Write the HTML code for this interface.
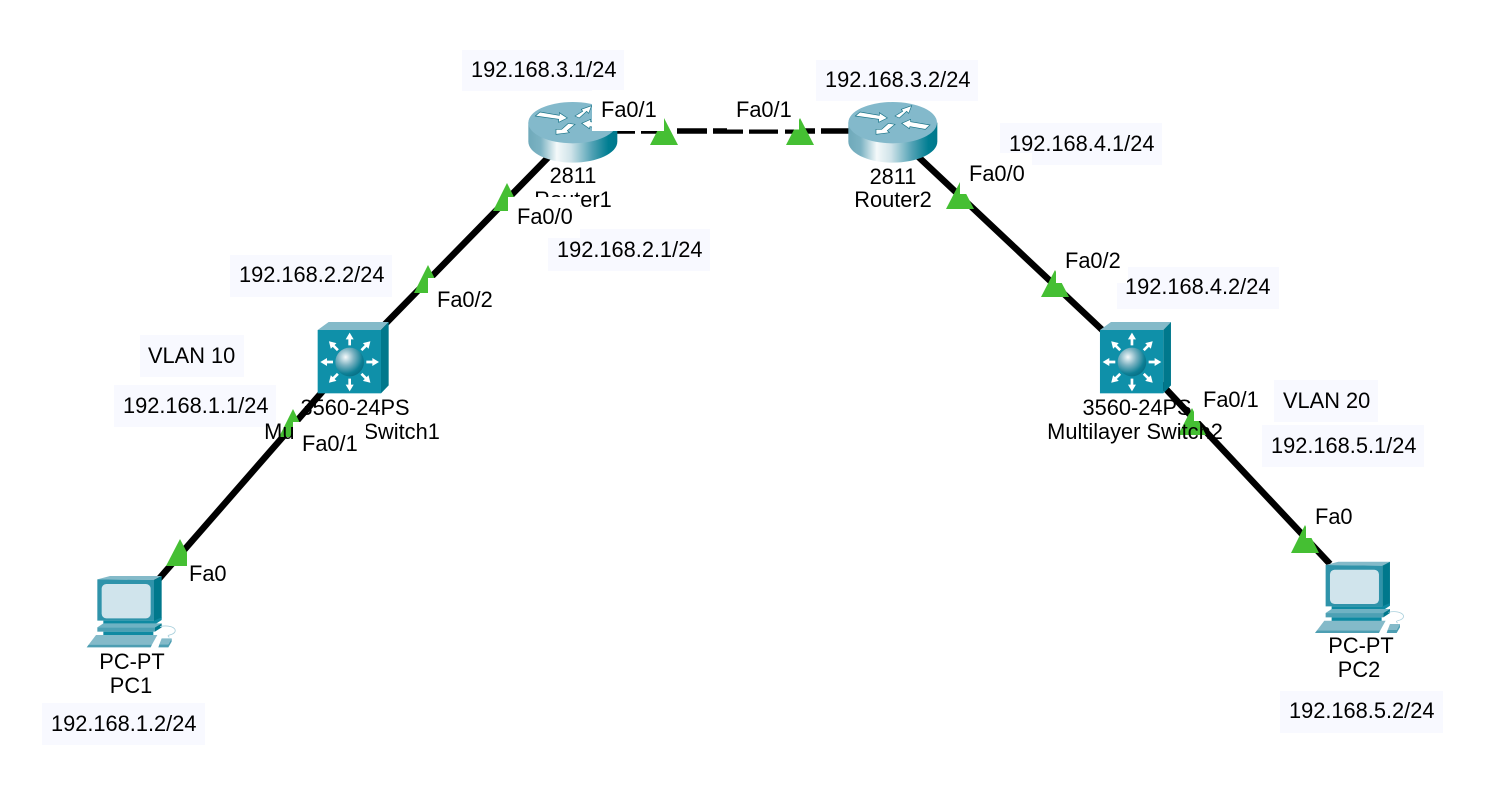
<!DOCTYPE html>
<html>
<head>
<meta charset="utf-8">
<style>
html,body{margin:0;padding:0;background:#fff;width:1490px;height:786px;overflow:hidden}
svg{display:block}
text{font-family:"Liberation Sans",Arial,sans-serif;font-size:21.8px;fill:#000}
.b{fill:#f8f9ff}
.w{fill:#fff}
.t{fill:#45bf33}
</style>
</head>
<body>
<svg width="1490" height="786" viewBox="0 0 1490 786" xmlns="http://www.w3.org/2000/svg">
<defs>
<linearGradient id="rg" x1="0" x2="1" y1="0" y2="0">
<stop offset="0" stop-color="#6fa9ba"/>
<stop offset=".14" stop-color="#7cb3c3"/>
<stop offset=".32" stop-color="#f4f9fa"/>
<stop offset=".48" stop-color="#cfe3e9"/>
<stop offset=".72" stop-color="#4fa0b3"/>
<stop offset=".9" stop-color="#007e92"/>
<stop offset="1" stop-color="#00788c"/>
</linearGradient>
<radialGradient id="sg" cx=".36" cy=".33" r=".72">
<stop offset="0" stop-color="#f6fafb"/>
<stop offset=".4" stop-color="#7db3c2"/>
<stop offset=".8" stop-color="#0d7f95"/>
<stop offset="1" stop-color="#086f85"/>
</radialGradient>
<g id="router">
<path d="M205 98V155C205 190 265 218 338 218S472 190 472 155V98Z" fill="url(#rg)"/>
<ellipse cx="338" cy="98" rx="133" ry="62" fill="#83b9cb"/>
<g fill="#fff" stroke="#1a7488" stroke-width="2">
<polygon points="226,78 240,66 298,76 298,68 322,84 296,97 296,88"/>
<polygon points="345,78 368,64 364,58 395,47 386,70 380,64 358,84"/>
<polygon points="365,100 392,88 392,95 450,105 436,118 390,110 388,116"/>
<polygon points="288,118 305,118 325,100 345,103 322,122 328,128 288,133"/>
</g>
</g>
<g id="arr"><polygon points="-4,-50 4,-50 4,-68 12,-68 0,-88 -12,-68 -4,-68" fill="#fff"/></g>
<g id="switch">
<polygon points="263,90 296,66 476,66 453,90" fill="#84bac9"/>
<polygon points="453,90 476,66 476,256 453,280" fill="#00788c"/>
<rect x="263" y="90" width="190" height="190" fill="#0f90a9"/>
<use href="#arr" transform="translate(359,186)"/>
<use href="#arr" transform="translate(359,186) rotate(45)"/>
<use href="#arr" transform="translate(359,186) rotate(90)"/>
<use href="#arr" transform="translate(359,186) rotate(135)"/>
<use href="#arr" transform="translate(359,186) rotate(180)"/>
<use href="#arr" transform="translate(359,186) rotate(225)"/>
<use href="#arr" transform="translate(359,186) rotate(270)"/>
<use href="#arr" transform="translate(359,186) rotate(315)"/>
<circle cx="359" cy="186" r="43" fill="url(#sg)"/>
</g>
<g id="pc">
<polygon points="172,148 210,138 365,138 342,150" fill="#84bac9"/>
<polygon points="342,150 365,138 365,265 342,280" fill="#00788c"/>
<polygon points="172,148 342,150 342,272 172,272" fill="#2f93aa"/>
<rect x="185" y="162" width="147" height="103" rx="14" fill="#d0e4ec"/>
<polygon points="190,272 342,272 365,262 365,270 342,285 190,285" fill="#0f8aa2"/>
<polygon points="172,292 190,280 365,280 345,292" fill="#6fb2c3"/>
<rect x="172" y="292" width="173" height="13" fill="#4da0b4"/>
<polygon points="345,292 365,280 365,292 345,305" fill="#00788c"/>
<rect x="190" y="305" width="150" height="12" fill="#0f8aa2"/>
<polygon points="168,315 352,315 336,344 146,344" fill="#84bac9"/>
<polygon points="146,344 336,344 332,352 140,352" fill="#4d9eb2"/>
<path d="M360 290C385 284 410 292 405 305S375 312 388 322" fill="none" stroke="#a9d0dc" stroke-width="2.5"/>
<polygon points="365,325 395,325 385,343 358,343" fill="#84bac9"/>
<polygon points="358,343 385,343 395,325 395,335 385,352 355,352" fill="#4d9eb2"/>
</g>
</defs>

<!-- IP label backgrounds -->
<rect class="b" x="462" y="50" width="162" height="41"/>
<rect class="b" x="816" y="60" width="162" height="41"/>
<rect class="b" x="1000" y="123" width="162" height="42"/>
<rect class="b" x="548" y="229" width="162" height="42"/>
<rect class="b" x="230" y="255" width="162" height="42"/>
<rect class="b" x="1117" y="267" width="162" height="42"/>
<rect class="b" x="140" y="335" width="104" height="42"/>
<rect class="b" x="114" y="385" width="162" height="42"/>
<rect class="b" x="1274" y="380" width="104" height="42"/>
<rect class="b" x="1262" y="425" width="162" height="42"/>
<rect class="b" x="1280" y="691" width="163" height="42"/>
<rect class="b" x="42" y="703" width="163" height="42"/>

<!-- links -->
<g stroke="#000" stroke-width="6.5" fill="none">
<line x1="573" y1="132" x2="350" y2="360"/>
<line x1="350" y1="360" x2="130" y2="612"/>
<line x1="892" y1="132" x2="1132" y2="358"/>
<line x1="1165" y1="388" x2="1330" y2="564"/>
<line x1="1132" y1="358" x2="1165" y2="388"/>
</g>
<g stroke="#000" stroke-width="5.5" fill="none">
<line x1="617" y1="131" x2="635" y2="131"/>
<line x1="641" y1="131" x2="660" y2="131"/>
<line x1="677" y1="131" x2="707" y2="131"/>
<line x1="713" y1="131" x2="743" y2="131"/>
<line x1="749" y1="131" x2="778" y2="131"/>
<line x1="785" y1="131" x2="815" y2="131"/>
<line x1="821" y1="131" x2="849" y2="131"/>
</g>

<!-- devices -->
<use href="#router" transform="translate(780,90) scale(.33333)"/>
<use href="#router" transform="translate(460,90) scale(.33333)"/>
<use href="#switch" transform="translate(230,300) scale(.33333)"/>
<use href="#switch" transform="translate(1012.3,300) scale(.33333)"/>
<use href="#pc" transform="translate(40,530) scale(.33333)"/>
<use href="#pc" transform="translate(1268.3,515.7) scale(.33333)"/>

<!-- link lights -->
<polygon class="t" points="180,539 166,566 194,566"/>
<polygon class="t" points="293,409 279,437 307,437"/>
<polygon class="t" points="428,265 414,293 442,293"/>
<polygon class="t" points="507,183 493,211 521,211"/>
<polygon class="t" points="664,118 650,145 678,145"/>
<polygon class="t" points="800,118 786,145 814,145"/>
<polygon class="t" points="960,182 946,209 974,209"/>
<polygon class="t" points="1055,270 1041,297 1069,297"/>
<polygon class="t" points="1192,408 1178,435 1206,435"/>
<polygon class="t" points="1305,525 1291,553 1319,553"/>

<!-- device labels -->
<g text-anchor="middle">
<text x="573" y="183">2811</text>
<text x="573" y="207">Router1</text>
<text x="893" y="184">2811</text>
<text x="893" y="207">Router2</text>
<text x="355" y="415">3560-24PS</text>
<text x="352" y="439">Multilayer Switch1</text>
<text x="1137" y="415">3560-24PS</text>
<text x="1135" y="439">Multilayer Switch2</text>
<text x="132" y="669">PC-PT</text>
<text x="131" y="693">PC1</text>
<text x="1361" y="653">PC-PT</text>
<text x="1359" y="677">PC2</text>
</g>

<!-- port labels -->
<rect class="w" x="592" y="90" width="72" height="41"/><text x="601" y="117">Fa0/1</text>
<rect class="w" x="727" y="90" width="72" height="39.5"/><text x="736" y="117">Fa0/1</text>
<rect class="w" x="508" y="197" width="72" height="41"/><text x="517" y="224">Fa0/0</text>
<rect class="w" x="428" y="278" width="73" height="42"/><text x="437" y="307">Fa0/2</text>
<rect class="w" x="293" y="422" width="73" height="42"/><text x="302" y="451">Fa0/1</text>
<rect class="w" x="187" y="553" width="45" height="41"/><text x="189" y="581">Fa0</text>
<rect class="w" x="960" y="153" width="72" height="41"/><text x="969" y="181">Fa0/0</text>
<rect class="w" x="1056" y="243" width="72" height="40"/><text x="1065" y="268">Fa0/2</text>
<rect class="w" x="1194" y="380" width="72" height="41"/><text x="1203" y="407">Fa0/1</text>
<rect class="w" x="1306" y="497" width="54" height="41"/><text x="1315" y="524">Fa0</text>

<!-- IP labels -->
<text x="471" y="77">192.168.3.1/24</text>
<text x="825" y="87">192.168.3.2/24</text>
<text x="1009" y="151">192.168.4.1/24</text>
<text x="557" y="257">192.168.2.1/24</text>
<text x="239" y="282">192.168.2.2/24</text>
<text x="1125" y="294">192.168.4.2/24</text>
<text x="148" y="363">VLAN 10</text>
<text x="123" y="413">192.168.1.1/24</text>
<text x="1283" y="408">VLAN 20</text>
<text x="1271" y="453">192.168.5.1/24</text>
<text x="1289" y="718">192.168.5.2/24</text>
<text x="51" y="731">192.168.1.2/24</text>
</svg>
</body>
</html>
